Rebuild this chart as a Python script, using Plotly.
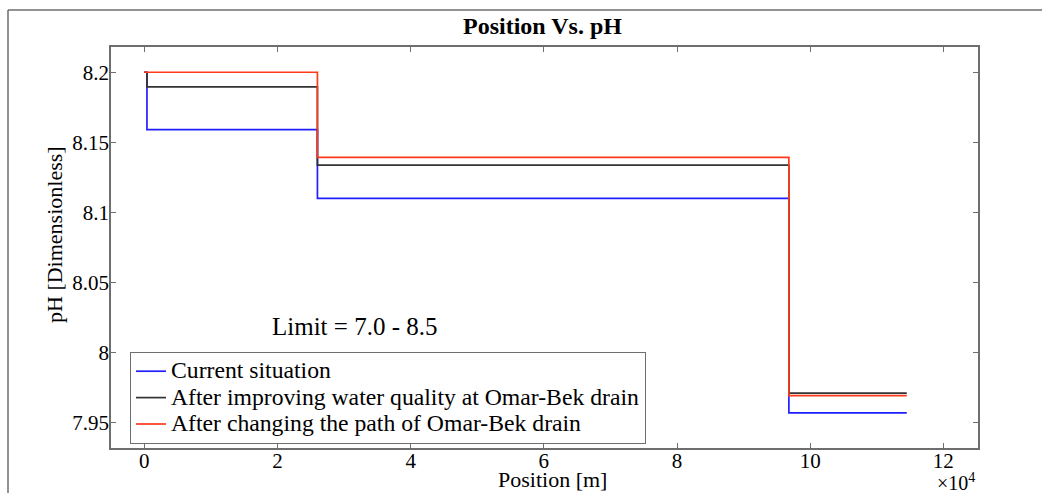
import plotly.graph_objects as go

position = [0, 400, 26000, 96800, 114500]
current = [8.2, 8.159, 8.110, 7.957, 7.957]
improved = [8.2, 8.1895, 8.1338, 7.9712, 7.9712]
changed = [8.2, 8.2, 8.1393, 7.9693, 7.9693]
names = ["Current situation",
         "After improving water quality at Omar-Bek drain",
         "After changing the path of Omar-Bek drain"]
colors = ["#1f1fff", "#333333", "#ff3a1a"]
xticks = [0, 20000, 40000, 60000, 80000, 100000, 120000]
xticklabels = ["0", "2", "4", "6", "8", "10", "12"]
yticks = [7.95, 8.0, 8.05, 8.1, 8.15, 8.2]
yticklabels = ["7.95", "8", "8.05", "8.1", "8.15", "8.2"]

FONT = "Liberation Serif"
AX = "#6e6e6e"
L, R, T, B = 111, 64, 47, 45
PW, PH = 1042 - L - R, 493 - T - B

fig = go.Figure()
for ys, nm, c in zip([current, improved, changed], names, colors):
    fig.add_trace(go.Scatter(x=position, y=ys, mode="lines",
                             name='<span style="font-size:23.7px">' + nm + '</span>',
                             line=dict(color=c, width=1.7, shape="hv")))

fig.update_layout(
    width=1042, height=493,
    margin=dict(l=L, r=R, t=T, b=B),
    paper_bgcolor="white", plot_bgcolor="white",
    font=dict(family=FONT, size=17, color="black"),
    showlegend=True,
    legend=dict(x=(130 - L) / PW, y=(448 - 352) / PH, xanchor="left", yanchor="top",
                bordercolor=AX, borderwidth=1, bgcolor="white",
                font=dict(family=FONT, size=18), tracegroupgap=0,
                itemwidth=30),
    xaxis=dict(range=[-5000, 125200], tickvals=xticks, ticktext=xticklabels,
               ticks="inside", ticklen=5, tickcolor=AX, showgrid=False,
               zeroline=False, showline=True, linecolor=AX, linewidth=1.5,
               mirror="ticks", tickfont=dict(family=FONT, size=21),
               ticklabelstandoff=-7),
    yaxis=dict(range=[7.932, 8.218], tickvals=yticks, ticktext=yticklabels,
               ticks="inside", ticklen=5, tickcolor=AX, showgrid=False,
               zeroline=False, showline=True, linecolor=AX, linewidth=1.5,
               mirror="ticks", tickfont=dict(family=FONT, size=21),
               ticklabelstandoff=-4),
)

fig.add_annotation(text="<b>Position Vs. pH</b>", xref="paper", yref="paper",
                   x=(542 - L) / PW, y=1, yshift=21,
                   xanchor="center", yanchor="middle", showarrow=False,
                   font=dict(family=FONT, size=24))
fig.add_annotation(text="Position [m]", xref="paper", yref="paper",
                   x=(552 - L) / PW, y=0, yshift=-31,
                   xanchor="center", yanchor="middle", showarrow=False,
                   font=dict(family=FONT, size=22))
fig.add_annotation(text="pH [Dimensionless]", xref="paper", yref="paper",
                   x=0, xshift=-57, y=(448 - 235) / PH,
                   xanchor="center", yanchor="middle", textangle=-90, showarrow=False,
                   font=dict(family=FONT, size=22))
fig.add_annotation(text="×10<sup>4</sup>", xref="paper", yref="paper",
                   x=1, xshift=-22, y=0, yshift=-34,
                   xanchor="center", yanchor="middle", showarrow=False,
                   font=dict(family=FONT, size=20))
fig.add_annotation(text="Limit = 7.0 - 8.5", xref="paper", yref="paper",
                   x=(354 - L) / PW, y=(448 - 326) / PH,
                   xanchor="center", yanchor="middle", showarrow=False,
                   font=dict(family=FONT, size=25))

# outer figure frame (left and top edges)
fx = (8 - L) / PW
fy = (448 - 10) / PH
fig.add_shape(type="line", xref="paper", yref="paper",
              x0=fx, x1=fx, y0=-B / PH - 0.01, y1=fy,
              line=dict(color=AX, width=1.5))
fig.add_shape(type="line", xref="paper", yref="paper",
              x0=fx, x1=(1042 - L) / PW + 0.01, y0=fy, y1=fy,
              line=dict(color=AX, width=1.5))

fig.write_html("out.html")
